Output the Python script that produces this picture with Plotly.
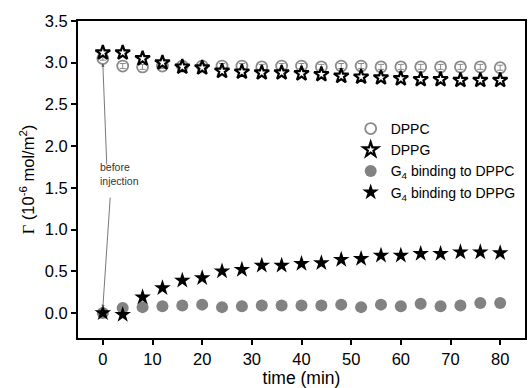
import plotly.graph_objects as go

time = [0, 4, 8, 12, 16, 20, 24, 28, 32, 36, 40, 44, 48, 52, 56, 60, 64, 68, 72, 76, 80]
dppc = [3.05, 2.96, 2.95, 2.96, 2.96, 2.96, 2.96, 2.96, 2.95, 2.96, 2.96, 2.95, 2.96, 2.96, 2.95, 2.95, 2.95, 2.95, 2.95, 2.95, 2.94]
dppc_err = [0.02, 0.03, 0.03, 0.03, 0.03, 0.03, 0.03, 0.03, 0.03, 0.03, 0.03, 0.03, 0.03, 0.03, 0.03, 0.03, 0.03, 0.03, 0.03, 0.03, 0.03]
dppg = [3.12, 3.12, 3.05, 3.00, 2.95, 2.94, 2.90, 2.89, 2.88, 2.88, 2.87, 2.86, 2.84, 2.83, 2.82, 2.81, 2.80, 2.80, 2.79, 2.79, 2.79]
g4_dppc = [0.00, 0.06, 0.07, 0.08, 0.09, 0.10, 0.07, 0.08, 0.09, 0.09, 0.09, 0.09, 0.10, 0.07, 0.10, 0.08, 0.11, 0.08, 0.09, 0.12, 0.12]
g4_dppg = [0.00, -0.02, 0.19, 0.30, 0.39, 0.42, 0.50, 0.52, 0.57, 0.57, 0.59, 0.60, 0.64, 0.65, 0.69, 0.69, 0.71, 0.71, 0.73, 0.73, 0.72]

x_ticks = [0, 10, 20, 30, 40, 50, 60, 70, 80]
y_ticks = [0.0, 0.5, 1.0, 1.5, 2.0, 2.5, 3.0, 3.5]

FONT = "Arial, Liberation Sans, sans-serif"

fig = go.Figure()
fig.add_trace(go.Scatter(
    x=time, y=dppc, mode="markers", name="DPPC",
    marker=dict(symbol="circle-open", size=11, color="#8a8a8a", line=dict(width=1.8, color="#8a8a8a")),
    error_y=dict(type="data", array=dppc_err, color="#8a8a8a", thickness=1, width=3),
))
fig.add_trace(go.Scatter(
    x=time, y=dppg, mode="markers", name="DPPG",
    marker=dict(symbol="star", size=11, color="white", line=dict(width=2.2, color="black")),
))
fig.add_trace(go.Scatter(
    x=time, y=g4_dppc, mode="markers", name="G<sub>4</sub> binding to DPPC",
    marker=dict(symbol="circle", size=12, color="#828282"),
))
fig.add_trace(go.Scatter(
    x=time, y=g4_dppg, mode="markers", name="G<sub>4</sub> binding to DPPG",
    marker=dict(symbol="star", size=12.5, color="black"),
))

# annotation text and arrows
fig.add_annotation(x=-1.0, y=1.66, xref="x", yref="y", text="before<br>injection",
                   showarrow=False, xanchor="left", yanchor="middle", align="left",
                   font=dict(size=10.5, color="#333333", family=FONT))
fig.add_annotation(x=time[0], y=dppc[0] - 0.06, ax=0.8, ay=1.76, xref="x", yref="y", axref="x", ayref="y",
                   text="", showarrow=True, arrowhead=2, arrowsize=0.8, arrowwidth=0.8, arrowcolor="#555555")
fig.add_annotation(x=time[0], y=g4_dppc[0] + 0.06, ax=1.5, ay=1.40, xref="x", yref="y", axref="x", ayref="y",
                   text="", showarrow=True, arrowhead=2, arrowsize=0.8, arrowwidth=0.8, arrowcolor="#555555")

axis_common = dict(showline=True, linecolor="black", linewidth=2, mirror=True,
                   ticks="outside", ticklen=5, tickwidth=2, tickcolor="black",
                   showgrid=False, zeroline=False,
                   tickfont=dict(size=16.5, color="black", family=FONT))

fig.update_layout(
    width=529, height=388,
    margin=dict(l=78, r=2, t=21, b=50),
    paper_bgcolor="white", plot_bgcolor="white",
    font=dict(family=FONT, color="black"),
    xaxis=dict(range=[-5, 85], tickvals=x_ticks, ticktext=[str(v) for v in x_ticks],
               title=dict(text="time (min)", font=dict(size=17.5), standoff=0), **axis_common),
    yaxis=dict(range=[-0.3, 3.5], tickvals=y_ticks, ticktext=[f"{v:.1f}" for v in y_ticks],
               title=dict(text='<span style="font-family:Liberation Serif">Γ</span> (10<sup>-6</sup> mol/m<sup>2</sup>)',
                          font=dict(size=16.5), standoff=6), **axis_common),
    legend=dict(x=0.61, y=0.71, xanchor="left", yanchor="top", bgcolor="rgba(0,0,0,0)",
                font=dict(size=14, color="black"), tracegroupgap=0, itemsizing="trace"),
    showlegend=True,
)

fig.write_html("out.html", config={"displayModeBar": False},
               post_script="document.body.style.margin='0px';document.body.style.overflow='hidden';")
